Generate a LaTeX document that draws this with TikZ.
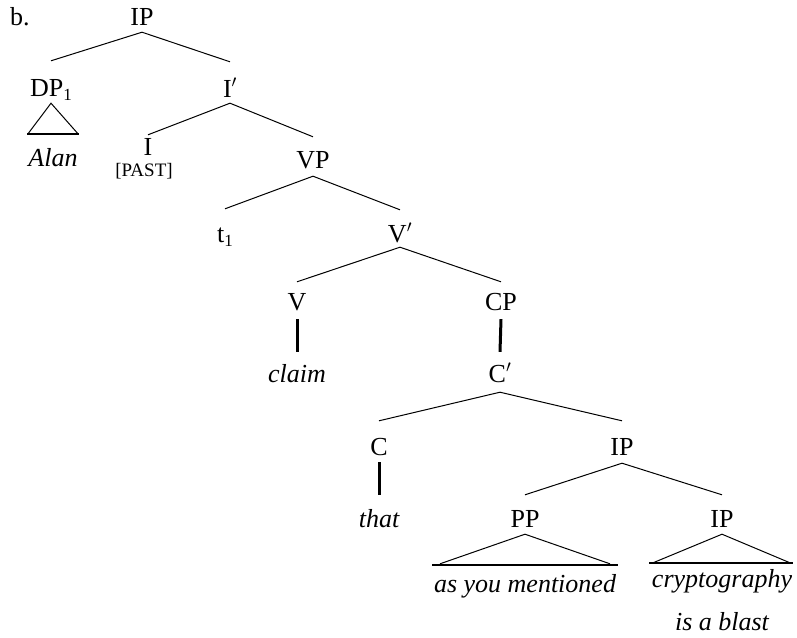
\documentclass[tikz,border=0pt]{standalone}
\usepackage{fontspec}
\setmainfont{Liberation Serif}
\usetikzlibrary{calc}
\newcommand{\idx}[1]{\raisebox{-4pt}{\fontsize{17}{18}\selectfont #1}}
\begin{document}
\begin{tikzpicture}[x=1pt,y=-1pt,
  cat/.style={font=\fontsize{26}{30}\selectfont, inner sep=0pt, text height=32pt, text depth=7pt, anchor=base},
  leaf/.style={font=\fontsize{26}{30}\selectfont\itshape, inner sep=0pt, text height=30pt, text depth=7pt, anchor=base},
  feat/.style={font=\fontsize{19}{20}\selectfont, inner sep=0pt, anchor=base},
  edge/.style={line width=1pt},
  bar/.style={line width=3pt},
  tbase/.style={line width=2.6pt}]
\useasboundingbox (0,0) rectangle (797,637);

% example label
\node[font=\fontsize{26}{30}\selectfont, inner sep=0pt, anchor=base west] (lbl) at (10,25) {b.};

% category labels
\node[cat] (ip0) at (142,25) {IP};
\node[cat, text height=35pt] (dp) at (51,96) {DP\idx{1}};
\node[cat, text height=35pt, text depth=6pt] (ibar) at (230,97) {I$'$};
\node[cat, text height=20pt] (i) at (148,155) {I};
\node[feat] (past) at (144,176) {[PAST]};
\node[cat, text height=31pt, text depth=8pt] (vp) at (313,168) {VP};
\node[cat, text height=33pt] (t) at (225,242) {t\idx{1}};
\node[cat, text depth=5pt] (vbar) at (400,242) {V$'$};
\node[cat, text height=28pt, text depth=9pt] (v) at (297,310) {V};
\node[cat, text height=28pt, text depth=9pt] (cp) at (501,310) {CP};
\node[cat, text height=30pt, text depth=10pt] (cbar) at (500,382) {C$'$};
\node[cat, text height=34pt] (c) at (379,455) {C};
\node[cat, text height=34pt, text depth=8pt] (ip1) at (622,455) {IP};
\node[cat] (pp) at (525,527) {PP};
\node[cat] (ip2) at (722,527) {IP};

% terminal strings
\node[leaf, text height=32pt] (alan) at (53,166) {Alan};
\node[leaf] (claim) at (297,382) {claim};
\node[leaf, text height=32pt] (that) at (379,527) {that};
\node[leaf, text height=27pt] (asyou) at (525,592) {as you mentioned};
\node[leaf, text height=24pt] (crypto) at (722,587) {cryptography};
\node[leaf] (blast) at (722,630) {is a blast};

% branches
\draw[edge] (ip0.south) -- (dp.north);
\draw[edge] (ip0.south) -- (ibar.north);
\draw[edge] (ibar.south) -- (i.north);
\draw[edge] (ibar.south) -- (vp.north);
\draw[edge] (vp.south) -- (t.north);
\draw[edge] (vp.south) -- (vbar.north);
\draw[edge] (vbar.south) -- (v.north);
\draw[edge] (vbar.south) -- (cp.north);
\draw[edge] (cbar.south) -- (c.north);
\draw[edge] (cbar.south) -- (ip1.north);
\draw[edge] (ip1.south) -- (pp.north);
\draw[edge] (ip1.south) -- (ip2.north);

% unary branches
\draw[bar] (v.south) -- (claim.north);
\draw[bar] (cp.south) -- (cbar.north);
\draw[bar] (c.south) -- (that.north);

% triangles
\draw[edge] ($(alan.north)+(-25,0)$) -- (dp.south) -- ($(alan.north)+(25,0)$);
\draw[tbase] ($(alan.north)+(-26,0)$) -- ($(alan.north)+(26,0)$);
\draw[edge] ($(asyou.north)+(-85,-1)$) -- (pp.south) -- ($(asyou.north)+(85,-1)$);
\draw[tbase] ($(asyou.north)+(-93,0)$) -- ($(asyou.north)+(93,0)$);
\draw[edge] ($(crypto.north)+(-69,0)$) -- (ip2.south) -- ($(crypto.north)+(68,0)$);
\draw[tbase] ($(crypto.north)+(-73,0)$) -- ($(crypto.north)+(71,0)$);
\end{tikzpicture}
\end{document}
